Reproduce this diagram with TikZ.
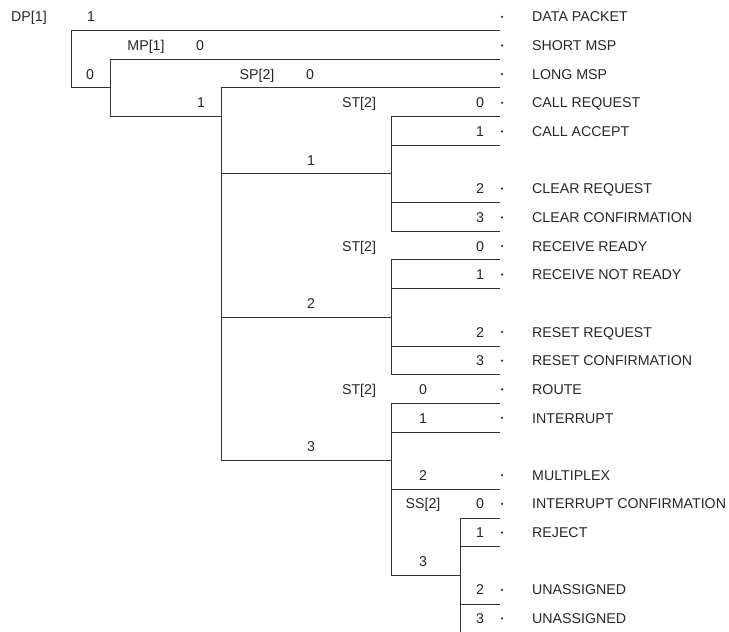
\documentclass[tikz,border=0pt]{standalone}
\usepackage{fontspec}
\setmainfont{Liberation Sans}
\newcommand\RY[1]{(21.9+28.65*(#1))}
\newcommand\BY[1]{(30.3+28.7*(#1))}
\begin{document}
\begin{tikzpicture}[x=1pt,y=-1pt,
  lbl/.style={font=\fontsize{14.2}{16}\selectfont, text=black!85, inner sep=0pt, anchor=base},
  itemtxt/.style={lbl, anchor=base west},
  dotm/.style={circle, fill=black!80, inner sep=0pt, minimum size=2.5pt},
  tree/.style={line width=0.9pt, draw=black!80}]
\useasboundingbox (0,0) rectangle (729,632);
% item names and dots
\foreach \r/\t/\n in {0/DATA PACKET/n0, 1/SHORT MSP/n1, 2/LONG MSP/n2,
  3/CALL REQUEST/n3, 4/CALL ACCEPT/n4, 6/CLEAR REQUEST/n6,
  7/CLEAR CONFIRMATION/n7, 8/RECEIVE READY/n8, 9/RECEIVE NOT READY/n9,
  11/RESET REQUEST/n11, 12/RESET CONFIRMATION/n12, 13/ROUTE/n13,
  14/INTERRUPT/n14, 16/MULTIPLEX/n16, 17/INTERRUPT CONFIRMATION/n17,
  18/REJECT/n18, 20/UNASSIGNED/n20, 21/UNASSIGNED/n21}{
  \node[itemtxt] (\n) at (532,{\RY{\r}}) {\t};
  \node[dotm] (d\n) at (502,{\RY{\r}-5.1}) {};
}
% digits at the right column
\foreach \r/\v in {3/0, 4/1, 6/2, 7/3, 8/0, 9/1, 11/2, 12/3, 17/0, 18/1, 20/2, 21/3}{
  \node[lbl] (v\r) at (480,{\RY{\r}}) {\v};
}
\foreach \r/\v in {13/0, 14/1, 16/2}{
  \node[lbl] (w\r) at (423,{\RY{\r}}) {\v};
}
% field labels
\node[lbl] (dp) at (29,{\RY{0}}) {DP[1]};
\node[lbl] (dp1) at (91,{\RY{0}}) {1};
\node[lbl] (dp0) at (90,{\RY{2}}) {0};
\node[lbl] (mp) at (146,{\RY{1}}) {MP[1]};
\node[lbl] (mp0) at (200,{\RY{1}}) {0};
\node[lbl] (mp1) at (201,{\RY{3}}) {1};
\node[lbl] (sp) at (257,{\RY{2}}) {SP[2]};
\node[lbl] (sp0) at (310,{\RY{2}}) {0};
\node[lbl] (sta) at (359,{\RY{3}}) {ST[2]};
\node[lbl] (stb) at (359,{\RY{8}}) {ST[2]};
\node[lbl] (stc) at (359,{\RY{13}}) {ST[2]};
\node[lbl] (sp1) at (311,{\RY{5}}) {1};
\node[lbl] (sp2) at (311,{\RY{10}}) {2};
\node[lbl] (sp3) at (311,{\RY{15}}) {3};
\node[lbl] (ss) at (423,{\RY{17}}) {SS[2]};
\node[lbl] (st3) at (423,{\RY{19}}) {3};
% tree lines
\draw[tree] (500,{\BY{0}}) -- (71,{\BY{0}}) -- (71,{\BY{2}}) -- (110,{\BY{2}});
\draw[tree] (500,{\BY{1}}) -- (110,{\BY{1}}) -- (110,{\BY{3}}) -- (221,{\BY{3}});
\draw[tree] (500,{\BY{2}}) -- (221,{\BY{2}}) -- (221,{\BY{15}});
% ST group 1
\draw[tree] (500,{\BY{3}}) -- (391,{\BY{3}}) -- (391,{\BY{7}}) -- (500,{\BY{7}});
\draw[tree] (391,{\BY{4}}) -- (500,{\BY{4}});
\draw[tree] (391,{\BY{6}}) -- (500,{\BY{6}});
\draw[tree] (221,{\BY{5}}) -- (391,{\BY{5}});
% ST group 2
\draw[tree] (500,{\BY{8}}) -- (391,{\BY{8}}) -- (391,{\BY{12}}) -- (500,{\BY{12}});
\draw[tree] (391,{\BY{9}}) -- (500,{\BY{9}});
\draw[tree] (391,{\BY{11}}) -- (500,{\BY{11}});
\draw[tree] (221,{\BY{10}}) -- (391,{\BY{10}});
% ST group 3
\draw[tree] (500,{\BY{13}}) -- (391,{\BY{13}}) -- (391,{\BY{19}}) -- (460,{\BY{19}});
\draw[tree] (391,{\BY{14}}) -- (500,{\BY{14}});
\draw[tree] (391,{\BY{16}}) -- (500,{\BY{16}});
\draw[tree] (221,{\BY{15}}) -- (391,{\BY{15}});
% SS group
\draw[tree] (500,{\BY{17}}) -- (460,{\BY{17}}) -- (460,632);
\draw[tree] (460,{\BY{18}}) -- (500,{\BY{18}});
\draw[tree] (460,{\BY{20}}) -- (500,{\BY{20}});
\end{tikzpicture}
\end{document}
